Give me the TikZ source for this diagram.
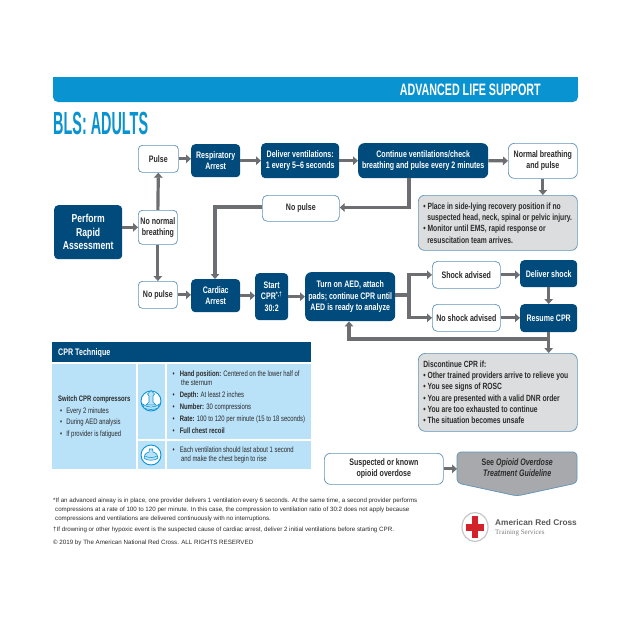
\documentclass[tikz,border=0pt]{standalone}
\usepackage{fontspec}
\usetikzlibrary{arrows.meta,calc,shapes.geometric}
\setmainfont{Liberation Sans}
\newfontfamily\narrowf[FakeStretch=0.75]{Liberation Sans}
\newfontfamily\headf[FakeStretch=0.65]{Liberation Sans}
\newfontfamily\titlef[FakeStretch=0.45]{Liberation Sans}
\newfontfamily\serifrc{Liberation Serif}
\definecolor{barblue}{HTML}{0A93D1}
\definecolor{navy}{HTML}{004B7C}
\definecolor{edgeblue}{HTML}{5F93B8}
\definecolor{panelgrey}{HTML}{DCDDDE}
\definecolor{seegrey}{HTML}{A7A9AC}
\definecolor{arrowgrey}{HTML}{6D6E71}
\definecolor{cellblue}{HTML}{B9E1F8}
\definecolor{inktxt}{HTML}{2B2B2B}
\definecolor{rcred}{HTML}{D2232A}
\newcommand{\boxfont}{\narrowf\bfseries\fontsize{9.4}{11.3}\selectfont}
\newcommand{\panelfont}{\narrowf\bfseries\fontsize{9}{11.3}\selectfont}
\newcommand{\cellfont}{\narrowf\fontsize{7.9}{11.9}\selectfont}
\newcommand{\notefont}{\fontsize{6.2}{8.9}\selectfont}
\tikzset{
  basebox/.style={anchor=north west,inner sep=0pt,rounded corners=4pt,align=center,font=\boxfont},
  darkbox/.style={basebox,fill=navy,text=white},
  whitebox/.style={basebox,draw=edgeblue,line width=0.7pt,fill=white,text=inktxt},
  greybox/.style={basebox,draw=edgeblue,line width=0.7pt,fill=panelgrey,text=inktxt,align=flush left,font=\panelfont},
  flow/.style={draw=arrowgrey,line width=3.2pt,-{Triangle[width=8.5pt,length=5pt]}},
  flowplain/.style={draw=arrowgrey,line width=3.2pt},
  cell/.style={anchor=north west,inner sep=0pt,fill=cellblue},
  celltext/.style={anchor=west,inner sep=0pt,align=left,text=inktxt,font=\cellfont},
  note/.style={anchor=north west,inner sep=0pt,align=left,text=inktxt,font=\notefont},
  iconring/.style={draw=barblue,line width=0.9pt,fill=white},
  iconink/.style={draw=barblue,line width=0.6pt,fill=cellblue},
}
\begin{document}
\begin{tikzpicture}[x=1pt,y=-1pt]
\useasboundingbox (0,0) rectangle (635,635);
\fill[white] (0,0) rectangle (635,635);
% header
\fill[barblue,rounded corners=5pt] (53,85) -- (53,102) -- (578,102) -- (578,85) -- cycle;
\fill[barblue] (53,77) rectangle (578,90);
\node[anchor=east,inner sep=0pt,text=white,font=\headf\bfseries\fontsize{16.5}{18}\selectfont] (alstitle) at (541,90) {ADVANCED LIFE SUPPORT};
\node[anchor=west,inner sep=0pt,text=barblue,font=\titlef\bfseries\fontsize{32}{34}\selectfont] (blstitle) at (53,123) {BLS: ADULTS};
% flow nodes
\node[whitebox,minimum width=40pt,minimum height=27pt] (pulse) at (138,145) {Pulse};
\node[darkbox,minimum width=49pt,minimum height=33pt] (resp) at (191,144) {Respiratory\\Arrest};
\node[darkbox,minimum width=78pt,minimum height=35pt] (deliver) at (261,143) {Deliver ventilations:\\1 every 5–6 seconds};
\node[darkbox,minimum width=130pt,minimum height=35pt,rounded corners=6pt] (cont) at (358,143) {Continue ventilations/check\\breathing and pulse every 2 minutes};
\node[whitebox,minimum width=69pt,minimum height=35pt,rounded corners=6pt] (normal) at (508,143) {Normal breathing\\and pulse};
\node[greybox,minimum width=159pt,minimum height=55pt,rounded corners=6pt,text width=159pt] (recov) at (418,195) {\hspace*{5pt}• Place in side-lying recovery position if no\\\hspace*{9pt}suspected head, neck, spinal or pelvic injury.\\\hspace*{5pt}• Monitor until EMS, rapid response or\\\hspace*{9pt}resuscitation team arrives.};
\node[whitebox,minimum width=77pt,minimum height=26pt,rounded corners=5pt] (nopulseu) at (262,195) {No pulse};
\node[darkbox,minimum width=68pt,minimum height=54pt,font=\narrowf\bfseries\fontsize{11.5}{13.6}\selectfont] (assess) at (54,205) {Perform\\Rapid\\Assessment};
\node[whitebox,minimum width=39pt,minimum height=34pt] (nonormal) at (138,210) {No normal\\breathing};
\node[whitebox,minimum width=39pt,minimum height=27pt] (nopulsel) at (138,281) {No pulse};
\node[darkbox,minimum width=49pt,minimum height=33pt] (cardiac) at (191,279) {Cardiac\\Arrest};
\node[darkbox,minimum width=33pt,minimum height=47pt,font=\narrowf\bfseries\fontsize{9.4}{11.2}\selectfont] (start) at (255,273) {Start\\CPR\textsuperscript{*,†}\\30:2};
\node[darkbox,minimum width=90pt,minimum height=49pt,rounded corners=6pt] (turn) at (305,272) {Turn on AED, attach\\pads; continue CPR until\\AED is ready to analyze};
\node[whitebox,minimum width=68pt,minimum height=27pt,rounded corners=5pt] (shock) at (432,261) {Shock advised};
\node[darkbox,minimum width=57pt,minimum height=27pt] (dshock) at (520,260) {Deliver shock};
\node[whitebox,minimum width=68pt,minimum height=27pt,rounded corners=5pt] (noshock) at (432,304) {No shock advised};
\node[darkbox,minimum width=57pt,minimum height=28pt] (resume) at (520,304) {Resume CPR};
\node[greybox,minimum width=159pt,minimum height=78pt,rounded corners=7pt,text width=159pt] (disc) at (418,353) {\hspace*{5pt}Discontinue CPR if:\\\hspace*{5pt}• Other trained providers arrive to relieve you\\\hspace*{5pt}• You see signs of ROSC\\\hspace*{5pt}• You are presented with a valid DNR order\\\hspace*{5pt}• You are too exhausted to continue\\\hspace*{5pt}• The situation becomes unsafe};
\node[whitebox,minimum width=119pt,minimum height=31pt,rounded corners=6pt] (opioid) at (324,453) {Suspected or known\\opioid overdose};
\draw[draw=edgeblue,line width=0.7pt,fill=seegrey,rounded corners=4pt] (457,452) -- (577,452) -- (577,483) -- (517,496) -- (457,483) -- cycle;
\node[basebox,text=inktxt,minimum width=120pt,minimum height=31pt] (see) at (457,452) {See \textit{Opioid Overdose}\\\textit{Treatment Guideline}};
% connectors
\draw[flow] (assess.east|-nonormal.west) -- (nonormal.west);
\draw[flow] (nonormal.north) -- (pulse.south);
\draw[flow] (nonormal.south) -- (nopulsel.north);
\draw[flow] (pulse.east) -- (pulse.east-|resp.west);
\draw[flow] (resp.east) -- (resp.east-|deliver.west);
\draw[flow] (deliver.east) -- (cont.west);
\draw[flow] (cont.east) -- (normal.west);
\draw[flow] (normal.south) -- (normal.south|-recov.north);
\coordinate (contdown) at (409,207.5);
\draw[flow] (contdown|-cont.south) -- (contdown) -- (contdown-|nopulseu.east);
\coordinate (cardup) at (215,207);
\draw[flow] (nopulseu.west|-cardup) -- (cardup) -- (cardup|-cardiac.north);
\draw[flow] (nopulsel.east) -- (nopulsel.east-|cardiac.west);
\draw[flow] (cardiac.east) -- (cardiac.east-|start.west);
\draw[flow] (start.east) -- (start.east-|turn.west);
\coordinate (split) at (409,295);
\draw[flowplain] (split-|turn.east) -- (split);
\draw[flow] (split) |- (shock.west);
\draw[flow] (split) |- (noshock.west);
\draw[flow] (shock.east) -- (shock.east-|dshock.west);
\draw[flow] (noshock.east) -- (noshock.east-|resume.west);
\draw[flow] (dshock.south) -- (resume.north);
\draw[flow] (resume.south) -- (resume.south|-disc.north);
\coordinate (backturn) at (349,339);
\draw[flow] (backturn-|resume.south) -- (backturn) -- (backturn|-turn.south);
\draw[flow] (opioid.east) -- (opioid.east-|see.west);
% CPR table
\node[anchor=north west,inner sep=0pt,fill=navy,minimum width=259pt,minimum height=20pt] (tabhead) at (52,342) {};
\node[anchor=west,inner sep=0pt,text=white,font=\narrowf\bfseries\fontsize{9.5}{11}\selectfont] (tabtitle) at (58,353) {CPR Technique};
\node[cell,minimum width=84pt,minimum height=105pt] (cellA) at (52,364) {};
\node[cell,minimum width=27pt,minimum height=75pt] (cellB) at (138,364) {};
\node[cell,minimum width=144pt,minimum height=75pt] (cellC) at (167,364) {};
\node[cell,minimum width=27pt,minimum height=28pt] (cellD) at (138,441) {};
\node[cell,minimum width=144pt,minimum height=28pt] (cellE) at (167,441) {};
\node[celltext] (switchtxt) at (58,417) {\textbf{Switch CPR compressors}\\\hspace*{2pt}•\hspace*{4pt}Every 2 minutes\\\hspace*{2pt}•\hspace*{4pt}During AED analysis\\\hspace*{2pt}•\hspace*{4pt}If provider is fatigued};
\node[celltext] (handtxt) at (172.5,402) {•\hspace*{5pt}\textbf{Hand position:} Centered on the lower half of\\[-2pt]\hspace*{8.3pt}the sternum\\•\hspace*{5pt}\textbf{Depth:} At least 2 inches\\•\hspace*{5pt}\textbf{Number:} 30 compressions\\•\hspace*{5pt}\textbf{Rate:} 100 to 120 per minute (15 to 18 seconds)\\•\hspace*{5pt}\textbf{Full chest recoil}};
\node[celltext] (ventxt) at (172.5,455) {•\hspace*{5pt}Each ventilation should last about 1 second\\[-2pt]\hspace*{8.3pt}and make the chest begin to rise};
% icons
\node[circle,iconring,minimum size=20pt,inner sep=0pt] (iconhand) at (151,401) {};
\draw[iconink] (151,390.5) -- (154.5,394) -- (153,396) -- (153,402) -- (156,405) -- (146,405) -- (149,402) -- (149,396) -- (147.5,394) -- cycle;
\draw[iconink] (142.5,404) .. controls (147,408) and (155,408) .. (159.5,404) -- (158,408) .. controls (154,410) and (148,410) .. (144,408) -- cycle;
\node[circle,iconring,minimum size=20pt,inner sep=0pt] (iconmask) at (151,455) {};
\draw[iconink] (149.5,449) -- (152.5,449) -- (153,452) .. controls (157,453) and (158,456) .. (158,458) .. controls (156,461) and (146,461) .. (144,458) .. controls (144,456) and (145,453) .. (149,452) -- cycle;
\draw[draw=barblue,line width=0.5pt] (145,456) .. controls (148,458) and (154,458) .. (157,456);
% footnotes
\node[note] (n1) at (53,498) {*If an advanced airway is in place, one provider delivers 1 ventilation every 6 seconds. At the same time, a second provider performs\\\hspace*{2pt}compressions at a rate of 100 to 120 per minute. In this case, the compression to ventilation ratio of 30:2 does not apply because\\\hspace*{2pt}compressions and ventilations are delivered continuously with no interruptions.};
\node[note] (n2) at (53,527) {†If drowning or other hypoxic event is the suspected cause of cardiac arrest, deliver 2 initial ventilations before starting CPR.};
\node[note] (n3) at (53,540) {© 2019 by The American National Red Cross. ALL RIGHTS RESERVED};
% logo
\node[ellipse,fill=white,draw=black!22,line width=1.2pt,minimum width=26pt,minimum height=29pt,inner sep=0pt] (rcring) at (475,527) {};
\fill[rcred] (471.7,516) rectangle (478.3,538);
\fill[rcred] (466,523.5) rectangle (484,530.5);
\node[anchor=west,inner sep=0pt,text=black!65,font=\bfseries\fontsize{8.3}{10}\selectfont] (rcname) at (495,522.5) {American Red Cross};
\node[anchor=west,inner sep=0pt,text=black!50,font=\serifrc\fontsize{7}{8}\selectfont] (rcsub) at (495,533) {Training Services};
\end{tikzpicture}
\end{document}
